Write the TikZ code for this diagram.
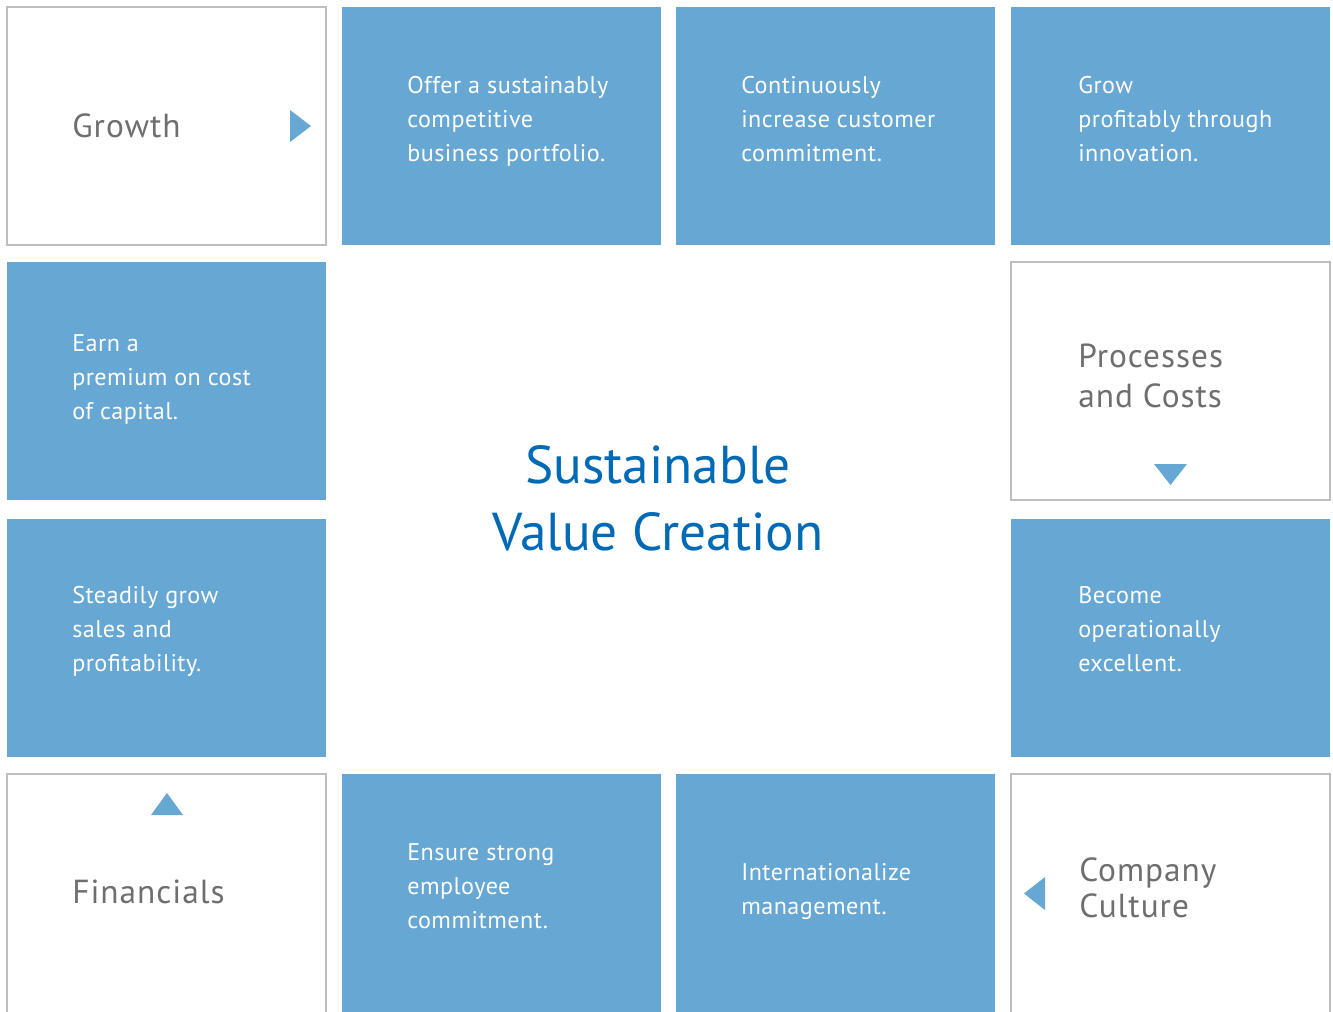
\documentclass[tikz,border=0pt]{standalone}
\usepackage{fontspec}
\setmainfont{PT Sans}
\newfontfamily\bodyfont[LetterSpace=2.0]{PT Sans}
\newfontfamily\headfont[LetterSpace=3.0]{PT Sans}
\definecolor{tileblue}{RGB}{102,167,211}
\definecolor{headgrey}{RGB}{110,110,110}
\definecolor{framegrey}{RGB}{190,190,190}
\definecolor{titleblue}{RGB}{0,106,180}
% stacked lines whose reference point is the first baseline
\newcommand{\stacklines}[2][230pt]{\parbox[t]{#1}{\raggedright #2}}

\begin{document}
\begin{tikzpicture}[x=0.75pt,y=-0.75pt,
  tile/.style={rectangle, inner sep=0pt, outer sep=0pt,
               minimum width=239.25pt, minimum height=178.5pt},
  bluetile/.style={tile, fill=tileblue},
  frametile/.style={tile, draw=framegrey, line width=0.9pt, fill=white},
  bottomrow/.style={minimum height=187.5pt},
  body/.style={anchor=base west, inner sep=0pt, text=white,
               font=\bodyfont\fontsize{18.1}{25.5}\selectfont},
  head/.style={anchor=base west, inner sep=0pt, text=headgrey,
               font=\headfont\fontsize{25}{30}\selectfont},
  marker/.style={fill=tileblue, draw=none},
]
\clip (0,0) rectangle (1333,1011);
\fill[white] (0,0) rectangle (1333,1011);

% ---- top row
\node[frametile] (growth) at (166.5,126) {};
\node[bluetile]  (portfolio) at (501.5,126) {};
\node[bluetile]  (customer) at (835.5,126) {};
\node[bluetile]  (innovation) at (1170.5,126) {};
% ---- second row
\node[bluetile]  (capital) at (166.5,381) {};
\node[frametile] (processes) at (1170.5,381) {};
% ---- third row
\node[bluetile]  (sales) at (166.5,637.5) {};
\node[bluetile]  (excellent) at (1170.5,637.5) {};
% ---- bottom row (runs off the lower edge)
\node[frametile, bottomrow] (financials) at (166.5,899) {};
\node[bluetile, bottomrow]  (employee) at (501.5,899) {};
\node[bluetile, bottomrow]  (international) at (835.5,899) {};
\node[frametile, bottomrow] (culture) at (1170.5,899) {};

% ---- direction markers
\fill[marker] (290,110) -- (290,142) -- (311,126) -- cycle;
\fill[marker] (1154,464) -- (1187,464) -- (1170.5,485) -- cycle;
\fill[marker] (151,815) -- (183,815) -- (167,793) -- cycle;
\fill[marker] (1045,877) -- (1045,910) -- (1024,893.5) -- cycle;

% ---- headings in the framed tiles
\node[head] (growth-label) at (72,137) {Growth};
\node[head] (processes-label) at (1078,367) {\stacklines{Processes\\and Costs}};
\node[head] (financials-label) at (72,903) {Financials};
\node[head, font=\headfont\fontsize{25}{27}\selectfont] (culture-label) at (1079,881) {\stacklines{Company\\Culture}};

% ---- goals in the blue tiles
\node[body] (portfolio-text) at (407,93) {\stacklines{Offer a sustainably\\competitive\\business portfolio.}};
\node[body] (customer-text) at (741,93) {\stacklines{Continuously\\increase customer\\commitment.}};
\node[body] (innovation-text) at (1078,93) {\stacklines{Grow\\profitably through\\innovation.}};
\node[body] (capital-text) at (72,351) {\stacklines{Earn a\\premium on cost\\of capital.}};
\node[body] (sales-text) at (72,603) {\stacklines{Steadily grow\\sales and\\profitability.}};
\node[body] (excellent-text) at (1078,603) {\stacklines{Become\\operationally\\excellent.}};
\node[body] (employee-text) at (407,860) {\stacklines{Ensure strong\\employee\\commitment.}};
\node[body] (international-text) at (741,880) {\stacklines{Internationalize\\management.}};

% ---- centre title
\node[anchor=base, inner sep=0pt, text=titleblue,
      font=\fontsize{40}{50.25}\selectfont] (title) at (658,483)
      {\parbox[t]{400pt}{\centering Sustainable\\Value Creation}};
\end{tikzpicture}
\end{document}
